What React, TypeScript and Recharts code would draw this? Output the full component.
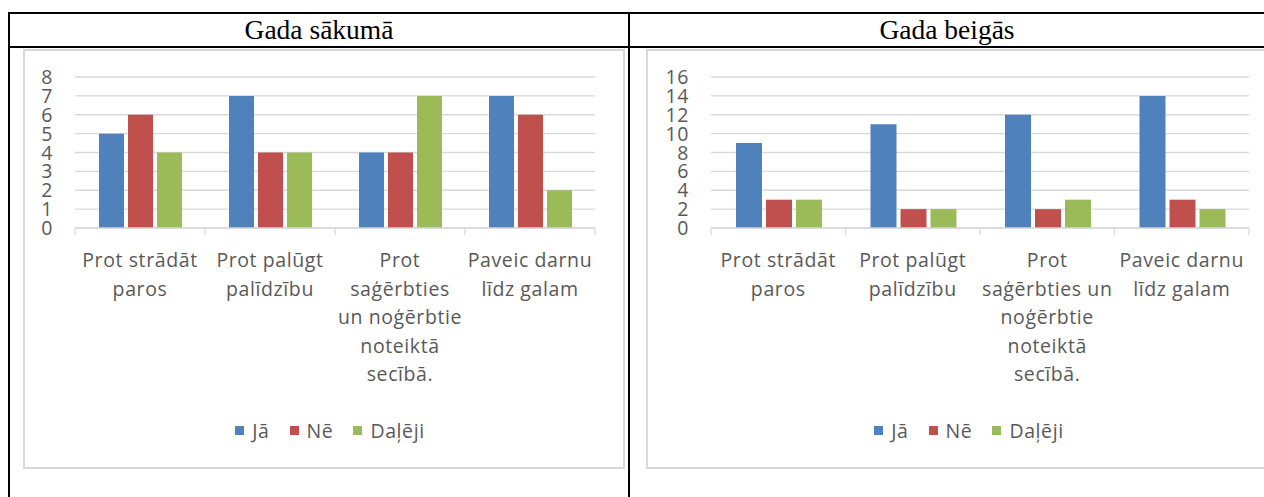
import { Bar, BarChart, CartesianGrid, Legend, XAxis, YAxis } from "recharts";

const categories = [
  "Prot strādāt paros",
  "Prot palūgt palīdzību",
  "Prot saģērbties un noģērbtie noteiktā secībā.",
  "Paveic darnu līdz galam",
];

// how each chart wraps the category names
const startLabelLines = [
  ["Prot strādāt", "paros"],
  ["Prot palūgt", "palīdzību"],
  ["Prot", "saģērbties", "un noģērbtie", "noteiktā", "secībā."],
  ["Paveic darnu", "līdz galam"],
];
const endLabelLines = [
  ["Prot strādāt", "paros"],
  ["Prot palūgt", "palīdzību"],
  ["Prot", "saģērbties un", "noģērbtie", "noteiktā", "secībā."],
  ["Paveic darnu", "līdz galam"],
];

const startJa = [5, 7, 4, 7];
const startNe = [6, 4, 4, 6];
const startDaleji = [4, 4, 7, 2];

const endJa = [9, 11, 12, 14];
const endNe = [3, 2, 2, 3];
const endDaleji = [3, 2, 3, 2];

const startTicks = [0, 1, 2, 3, 4, 5, 6, 7, 8];
const endTicks = [0, 2, 4, 6, 8, 10, 12, 14, 16];

const seriesNames = ["Jā", "Nē", "Daļēji"];
const colors = ["#4F81BD", "#C0504D", "#9BBB59"];

const FONT = '"Open Sans", sans-serif';
const TEXT = "#595959";
const GRID = "#D9D9D9";
const SIZE = 19.5;
const SPACING = "0.6px";

function buildRows(ja: number[], ne: number[], daleji: number[]) {
  return categories.map((name, i) => ({ name, ja: ja[i], ne: ne[i], daleji: daleji[i] }));
}

function makeXTick(lines: string[][]) {
  return function XTick(props: any) {
    const { x, y, payload, width, visibleTicksCount, index } = props;
    const bw = width / visibleTicksCount;
    const rows = lines[payload.index ?? index] ?? [String(payload.value)];
    return (
      <g>
        <line x1={x - bw / 2} x2={x - bw / 2} y1={y} y2={y + 7} stroke={GRID} strokeWidth={1.3} />
        {index === visibleTicksCount - 1 && (
          <line x1={x + bw / 2} x2={x + bw / 2} y1={y} y2={y + 7} stroke={GRID} strokeWidth={1.3} />
        )}
        <text
          textAnchor="middle"
          fontFamily={FONT}
          fontSize={SIZE}
          fill={TEXT}
          style={{ letterSpacing: SPACING }}
        >
          {rows.map((r, i) => (
            <tspan key={i} x={x} y={y + 39 + i * 28.6}>
              {r}
            </tspan>
          ))}
        </text>
      </g>
    );
  };
}

function YTick(props: any) {
  const { x, y, payload } = props;
  return (
    <text
      x={x}
      y={y}
      dy="0.36em"
      textAnchor="end"
      fontFamily={FONT}
      fontSize={SIZE}
      fill={TEXT}
      style={{ letterSpacing: SPACING }}
    >
      {payload.value}
    </text>
  );
}

function LegendBox({ shift }: { shift: number }) {
  return (
    <div
      style={{
        display: "flex",
        justifyContent: "center",
        alignItems: "center",
        paddingLeft: shift,
        fontFamily: FONT,
        fontSize: SIZE,
        color: TEXT,
        letterSpacing: SPACING,
        height: 24,
      }}
    >
      {seriesNames.map((n, i) => (
        <div key={n} style={{ display: "flex", alignItems: "center", marginRight: i < 2 ? 20 : 0 }}>
          <span style={{ width: 9, height: 9, background: colors[i], marginRight: 8, display: "inline-block" }} />
          <span>{n}</span>
        </div>
      ))}
    </div>
  );
}

interface StageProps {
  rows: ReturnType<typeof buildRows>;
  lines: string[][];
  ticks: number[];
  width: number;
  yWidth: number;
  catGap: number;
  legendShift: number;
}

function StageChart({ rows, lines, ticks, width, yWidth, catGap, legendShift }: StageProps) {
  const XTick = makeXTick(lines);
  return (
    <BarChart
      width={width}
      height={419}
      data={rows}
      margin={{ top: 28, right: 30, left: 0, bottom: 0 }}
      barCategoryGap={catGap}
      barGap={4}
    >
      <CartesianGrid stroke={GRID} strokeWidth={1.3} vertical={false} />
      <XAxis
        dataKey="name"
        height={240}
        interval={0}
        tickSize={0}
        tickMargin={0}
        tickLine={false}
        axisLine={{ stroke: GRID, strokeWidth: 1.3 }}
        tick={<XTick />}
      />
      <YAxis
        width={yWidth}
        domain={[0, ticks[ticks.length - 1]]}
        ticks={ticks}
        interval={0}
        axisLine={false}
        tickLine={false}
        tickSize={0}
        tickMargin={22}
        tick={<YTick />}
      />
      <Legend
        layout="horizontal"
        verticalAlign="middle"
        align="center"
        wrapperStyle={{ top: 369, left: 0, width: width }}
        content={() => <LegendBox shift={legendShift} />}
      />
      <Bar dataKey="ja" name={seriesNames[0]} fill={colors[0]} isAnimationActive={false} />
      <Bar dataKey="ne" name={seriesNames[1]} fill={colors[1]} isAnimationActive={false} />
      <Bar dataKey="daleji" name={seriesNames[2]} fill={colors[2]} isAnimationActive={false} />
    </BarChart>
  );
}

const line = (s: React.CSSProperties) => <div style={{ position: "absolute", background: "#000", ...s }} />;

const headerStyle: React.CSSProperties = {
  position: "absolute",
  top: 14,
  height: 32,
  lineHeight: "32px",
  textAlign: "center",
  fontFamily: '"Liberation Serif", "Times New Roman", serif',
  fontSize: 27.5,
  color: "#000",
};

export default function App() {
  return (
    <div
      style={{
        position: "absolute",
        left: 0,
        top: 0,
        width: 1264,
        height: 497,
        overflow: "hidden",
        background: "#fff",
      }}
    >
      {line({ left: 8, top: 12, width: 1256, height: 2 })}
      {line({ left: 8, top: 46, width: 1256, height: 2 })}
      {line({ left: 8, top: 12, width: 2, height: 485 })}
      {line({ left: 628, top: 12, width: 2, height: 485 })}

      <div style={{ ...headerStyle, left: 10, width: 618 }}>Gada sākumā</div>
      <div style={{ ...headerStyle, left: 630, width: 634 }}>Gada beigās</div>

      <div
        style={{
          position: "absolute",
          left: 23,
          top: 49,
          width: 602,
          height: 420,
          border: `2px solid ${GRID}`,
          boxSizing: "border-box",
        }}
      />
      <div
        style={{
          position: "absolute",
          left: 646,
          top: 49,
          width: 640,
          height: 420,
          border: `2px solid ${GRID}`,
          boxSizing: "border-box",
        }}
      />

      <div style={{ position: "absolute", left: 23, top: 49 }}>
        <StageChart
          rows={buildRows(startJa, startNe, startDaleji)}
          lines={startLabelLines}
          ticks={startTicks}
          width={602}
          yWidth={52}
          catGap={24}
          legendShift={12}
        />
      </div>
      <div style={{ position: "absolute", left: 646, top: 49 }}>
        <StageChart
          rows={buildRows(endJa, endNe, endDaleji)}
          lines={endLabelLines}
          ticks={endTicks}
          width={633}
          yWidth={65}
          catGap={25}
          legendShift={13}
        />
      </div>
    </div>
  );
}
